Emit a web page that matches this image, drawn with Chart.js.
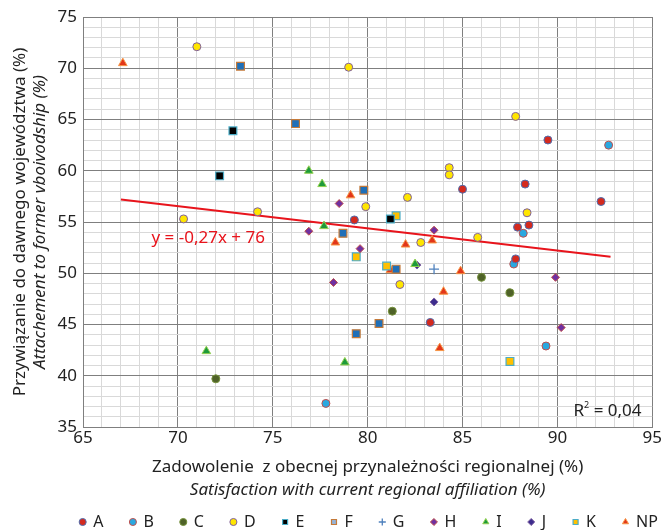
<!DOCTYPE html>
<html>
<head>
<meta charset="utf-8">
<script src="https://cdn.jsdelivr.net/npm/chart.js@4/dist/chart.umd.min.js"></script>
<style>
  html, body { margin: 0; padding: 0; background: #fff; }
  #wrap { width: 663px; height: 530px; position: relative; }
</style>
</head>
<body>
<div id="wrap"><canvas id="c" width="663" height="530"></canvas></div>
<script>
// ---- data ----
const A_x = [79.3, 85.0, 89.5, 88.3, 92.3, 87.9, 88.5, 87.8, 83.3];
const A_y = [55.2, 58.2, 63.0, 58.7, 57.0, 54.5, 54.7, 51.4, 45.2];
const B_x = [92.7, 88.2, 87.7, 89.4, 77.8];
const B_y = [62.5, 53.9, 50.9, 42.9, 37.3];
const C_x = [72.0, 86.0, 87.5, 81.3];
const C_y = [39.7, 49.6, 48.1, 46.3];
const D_x = [71.0, 79.0, 70.3, 74.2, 79.9, 82.1, 84.3, 84.3, 87.8, 88.4, 85.8, 82.8, 81.7];
const D_y = [72.1, 70.1, 55.3, 56.0, 56.5, 57.4, 60.3, 59.6, 65.3, 55.9, 53.5, 53.0, 48.9];
const E_x = [72.9, 72.2, 81.2];
const E_y = [63.9, 59.5, 55.3];
const F_x = [73.3, 76.2, 79.8, 78.7, 81.5, 80.6, 79.4];
const F_y = [70.2, 64.6, 58.1, 53.9, 50.4, 45.1, 44.1];
const G_x = [83.5];
const G_y = [50.4];
const H_x = [78.5, 76.9, 79.6, 83.5, 78.2, 89.9, 90.2];
const H_y = [56.8, 54.1, 52.4, 54.2, 49.1, 49.6, 44.7];
const I_x = [76.9, 77.6, 77.7, 82.5, 71.5, 78.8];
const I_y = [60.0, 58.7, 54.6, 50.9, 42.4, 41.3];
const J_x = [82.6, 83.5];
const J_y = [50.8, 47.2];
const K_x = [81.5, 79.4, 81.0, 87.5];
const K_y = [55.6, 51.6, 50.7, 41.4];
const NP_x = [67.1, 79.1, 78.3, 83.4, 82.0, 84.9, 81.2, 84.0, 83.8];
const NP_y = [70.5, 57.6, 53.0, 53.2, 52.8, 50.2, 50.3, 48.2, 42.7];
const trend_x = [67.0, 92.8];
const trend_y = [57.2, 51.6];
const seriesNames = ['A','B','C','D','E','F','G','H','I','J','K','NP'];
const xTicksMajor = [65, 70, 75, 80, 85, 90, 95];
const yTicksMajor = [35, 40, 45, 50, 55, 60, 65, 70, 75];
const equationText = 'y = -0,27x + 76';
const r2Text = '0,04';

// ---- styles ----
const styles = {
  A:  { style: 'circle',   r: 4,   bg: '#d42a1e', bd: '#4f6fb0', bw: 1 },
  B:  { style: 'circle',   r: 4,   bg: '#2aa8e0', bd: '#c0504d', bw: 1 },
  C:  { style: 'circle',   r: 4,   bg: '#4f6228', bd: '#76923c', bw: 1 },
  D:  { style: 'circle',   r: 4,   bg: '#ffe600', bd: '#7f5fa0', bw: 1 },
  E:  { style: 'rect',     r: 5.5, bg: '#000000', bd: '#4bacc6', bw: 1.2 },
  F:  { style: 'rect',     r: 5.5, bg: '#1f6fb8', bd: '#c47a3a', bw: 1.2, legendBg: '#95b3d7' },
  G:  { style: 'cross',    r: 5,   bg: '#4f81bd', bd: '#4f81bd', bw: 1.3 },
  H:  { style: 'rectRot',  r: 4,   bg: '#7030a0', bd: '#c0504d', bw: 1 },
  I:  { style: 'triangle', r: 5,   bg: '#1e9a3a', bd: '#92d050', bw: 1 },
  J:  { style: 'rectRot',  r: 4,   bg: '#3d2c8d', bd: '#8064a2', bw: 1 },
  K:  { style: 'rect',     r: 5.5, bg: '#ffc000', bd: '#4bacc6', bw: 1.2 },
  NP: { style: 'triangle', r: 5,   bg: '#e2361a', bd: '#f79646', bw: 1 }
};
const seriesX = {A:A_x,B:B_x,C:C_x,D:D_x,E:E_x,F:F_x,G:G_x,H:H_x,I:I_x,J:J_x,K:K_x,NP:NP_x};
const seriesY = {A:A_y,B:B_y,C:C_y,D:D_y,E:E_y,F:F_y,G:G_y,H:H_y,I:I_y,J:J_y,K:K_y,NP:NP_y};

const FONT = '"Noto Sans", "Open Sans", sans-serif';
const PLOT_BOTTOM = 427;
const LEGEND_CENTER_X = 369;
const LEGEND_TOP = 487;

const datasets = seriesNames.map(n => {
  const s = styles[n];
  return {
    label: n,
    type: 'scatter',
    data: seriesX[n].map((x, i) => ({ x: x, y: seriesY[n][i] })),
    pointStyle: s.style,
    pointRadius: s.r,
    pointHoverRadius: s.r,
    backgroundColor: s.bg,
    borderColor: s.bd,
    pointBorderWidth: s.bw,
    borderWidth: s.bw,
    order: 1
  };
});
datasets.push({
  label: '__trend',
  type: 'line',
  data: trend_x.map((x, i) => ({ x: x, y: trend_y[i] })),
  borderColor: '#e8141c',
  borderWidth: 2,
  pointRadius: 0,
  fill: false,
  order: 2
});

const legendShift = {
  id: 'legendShift',
  afterLayout(chart) {
    const lg = chart.legend;
    if (!lg) return;
    const dx = LEGEND_CENTER_X - (lg.left + lg.right) / 2;
    const dy = LEGEND_TOP - lg.top;
    lg.left += dx; lg.right += dx;
    lg.top += dy; lg.bottom += dy;
  }
};

const textPlugin = {
  id: 'texts',
  afterDraw(chart) {
    const ctx = chart.ctx;
    const ca = chart.chartArea;
    const xs = chart.scales.x, ys = chart.scales.y;
    ctx.save();
    ctx.fillStyle = '#222';
    ctx.textAlign = 'center';
    ctx.textBaseline = 'middle';
    const cx = (ca.left + ca.right) / 2;
    ctx.font = '17px ' + FONT;
    ctx.fillText('Zadowolenie  z obecnej przynależności regionalnej (%)', cx, 467);
    ctx.font = 'italic 17px ' + FONT;
    ctx.fillText('Satisfaction with current regional affiliation (%)', cx, 490);
    const cy = (ca.top + ca.bottom) / 2;
    ctx.save();
    ctx.translate(20, cy);
    ctx.rotate(-Math.PI / 2);
    ctx.font = '17px ' + FONT;
    ctx.fillText('Przywiązanie do dawnego województwa (%)', 0, 0);
    ctx.restore();
    ctx.save();
    ctx.translate(40, cy);
    ctx.rotate(-Math.PI / 2);
    ctx.font = 'italic 17px ' + FONT;
    ctx.fillText('Attachement to former vboivodship (%)', 0, 0);
    ctx.restore();
    // equation
    ctx.fillStyle = '#e8141c';
    ctx.font = '17px ' + FONT;
    ctx.textAlign = 'center';
    ctx.fillText(equationText, xs.getPixelForValue(71.6), ys.getPixelForValue(53.45));
    // R^2
    ctx.fillStyle = '#222';
    ctx.textAlign = 'left';
    let px = xs.getPixelForValue(90.85);
    const py = ys.getPixelForValue(36.55);
    ctx.font = '17px ' + FONT;
    ctx.fillText('R', px, py);
    px += ctx.measureText('R').width;
    ctx.font = '9px ' + FONT;
    ctx.fillText('2', px, py - 6);
    px += ctx.measureText('2').width;
    ctx.font = '17px ' + FONT;
    ctx.fillText(' = ' + r2Text, px, py);
    ctx.restore();
  }
};

const gridColor = (c) => (c.tick && c.tick.value % 5 === 0) ? '#7f7f7f' : '#d9d9d9';

new Chart(document.getElementById('c'), {
  data: { datasets: datasets },
  options: {
    responsive: false,
    animation: false,
    events: [],
    layout: { padding: { top: 17, right: 8, left: 0, bottom: 0 } },
    plugins: {
      tooltip: { enabled: false },
      legend: {
        position: 'bottom',
        labels: {
          usePointStyle: true,
          boxHeight: 5,
          boxWidth: 5,
          padding: 27,
          color: '#222',
          font: { family: FONT, size: 16 },
          filter: (item) => item.text !== '__trend',
          generateLabels: (chart) => {
            const items = Chart.defaults.plugins.legend.labels.generateLabels(chart);
            items.forEach(it => {
              const s = styles[it.text];
              if (s && s.legendBg) it.fillStyle = s.legendBg;
            });
            return items;
          }
        }
      }
    },
    scales: {
      x: {
        type: 'linear',
        min: 65, max: 95,
        afterFit: (s) => {
          const lgH = (s.chart.legend && s.chart.legend.height) ? s.chart.legend.height : 0;
          s.height = 530 - PLOT_BOTTOM - lgH;
        },
        border: { color: '#7f7f7f', width: 1 },
        grid: { color: gridColor, drawTicks: false, lineWidth: 1 },
        ticks: {
          stepSize: 1, autoSkip: false, maxRotation: 0, padding: 1,
          color: '#222', font: { family: FONT, size: 17 },
          callback: (v) => xTicksMajor.includes(v) ? String(v) : ''
        }
      },
      y: {
        type: 'linear',
        min: 35, max: 75,
        afterFit: (s) => { s.width = 83; },
        border: { color: '#7f7f7f', width: 1 },
        grid: { color: gridColor, drawTicks: false, lineWidth: 1 },
        ticks: {
          stepSize: 1, autoSkip: false, padding: 6,
          color: '#222', font: { family: FONT, size: 17 },
          callback: (v) => yTicksMajor.includes(v) ? String(v) : ''
        }
      }
    }
  },
  plugins: [legendShift, textPlugin]
});
</script>
</body>
</html>
